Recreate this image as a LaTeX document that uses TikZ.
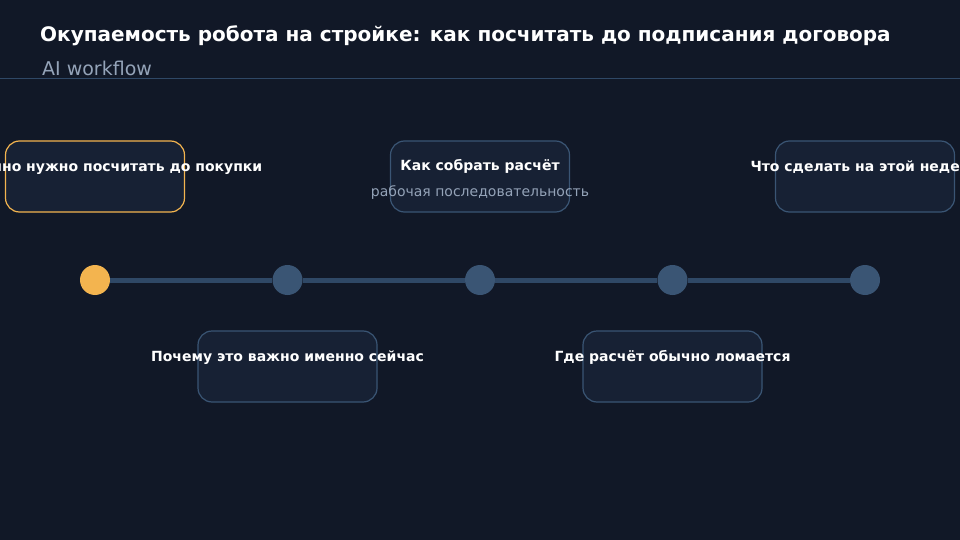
\documentclass[tikz,border=0pt]{standalone}
\usepackage{fontspec}
\setmainfont{DejaVu Sans}
\definecolor{bgdark}{HTML}{111827}
\definecolor{cardfill}{HTML}{172134}
\definecolor{cardedge}{HTML}{3A5574}
\definecolor{accent}{HTML}{F3B44F}
\definecolor{railblue}{HTML}{2F4866}
\definecolor{mutedtext}{HTML}{94A3B8}
\tikzset{
	card/.style={draw=cardedge, fill=cardfill, line width=1.2pt, rounded corners=14pt,
			minimum width=179pt, minimum height=71pt},
	dot/.style={circle, fill=cardedge, minimum size=30pt, inner sep=0pt},
	rail/.style={railblue, line width=5pt},
	cardtitle/.style={text=white, anchor=base, font=\bfseries\fontsize{14}{16}\selectfont},
	cardnote/.style={text=mutedtext, anchor=base, font=\fontsize{14}{16}\selectfont}
}

\begin{document}
\begin{tikzpicture}[x=1pt, y=-1pt]
        % Background and frame
        \fill[bgdark] (0,0) rectangle (960,540);
        \useasboundingbox (0,0) rectangle (960,540);

        % Header
        \node[anchor=base west, text=white, inner sep=0pt, font=\bfseries\fontsize{20}{24}\selectfont] (title) at (40,41.5) {Окупаемость робота на стройке: как посчитать до подписания договора};
        \node[anchor=base west, text=mutedtext, inner sep=0pt, font=\fontsize{19}{22}\selectfont] (subtitle) at (42,76) {AI workflow};
        \draw[railblue, line width=0.8pt] (0,78) -- (960,78);

        % Timeline dots
        \node[dot, fill=accent] (d1) at (95,280) {};
        \node[dot] (d2) at (287.5,280) {};
        \node[dot] (d3) at (480,280) {};
        \node[dot] (d4) at (672.5,280) {};
        \node[dot] (d5) at (865,280) {};
        \draw[rail] (d1) -- (d2);
        \draw[rail] (d2) -- (d3);
        \draw[rail] (d3) -- (d4);
        \draw[rail] (d4) -- (d5);

        % Cards above the line
        \node[card, draw=accent] (buy) at (95,176.5) {};
        \node[card] (calc) at (480,176.5) {};
        \node[card] (week) at (865,176.5) {};
        \node[cardtitle] (buy-t) at (95,171.5) {Что именно нужно посчитать до покупки};
        \node[cardtitle] (calc-t) at (480,171) {Как собрать расчёт};
        \node[cardnote] (calc-n) at (480,196.5) {рабочая последовательность};
        \node[cardtitle] (week-t) at (865,171.5) {Что сделать на этой неделе};

        % Cards below the line
        \node[card] (why) at (287.5,366.5) {};
        \node[card] (fail) at (672.5,366.5) {};
        \node[cardtitle] (why-t) at (287.5,361.5) {Почему это важно именно сейчас};
        \node[cardtitle] (fail-t) at (672.5,361) {Где расчёт обычно ломается};
\end{tikzpicture}
\end{document}
